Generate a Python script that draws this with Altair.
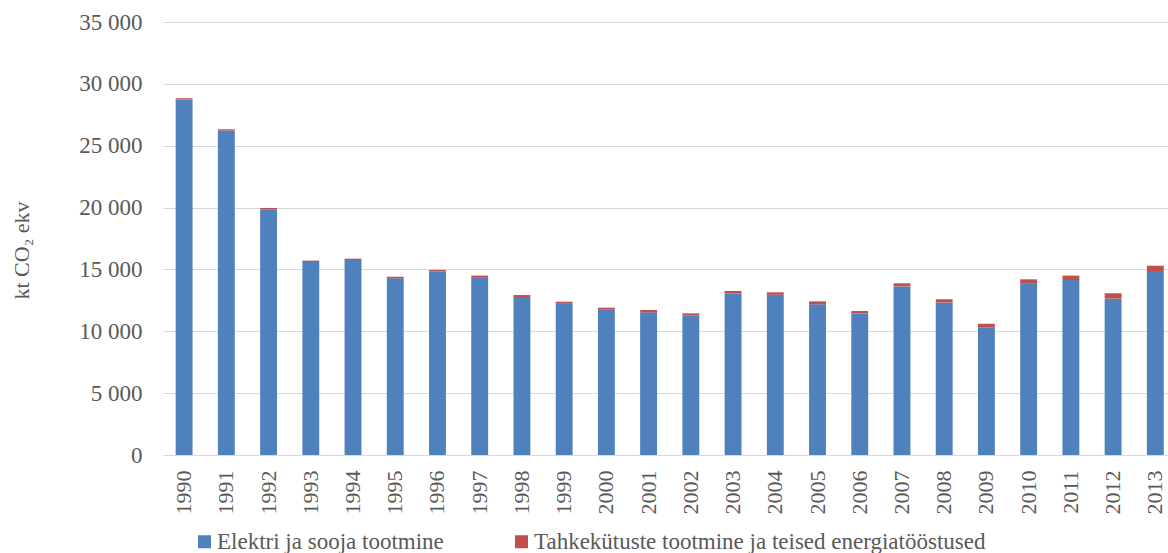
import altair as alt
import pandas as pd

# Emissions of the energy industries, kt CO2 equivalent
years = ["1990", "1991", "1992", "1993", "1994", "1995", "1996", "1997",
         "1998", "1999", "2000", "2001", "2002", "2003", "2004", "2005",
         "2006", "2007", "2008", "2009", "2010", "2011", "2012", "2013"]

elekter = [28740, 26230, 19870, 15600, 15760, 14280, 14820, 14360,
           12770, 12220, 11740, 11530, 11260, 13040, 12950, 12180,
           11440, 13630, 12330, 10330, 13840, 14140, 12640, 14870]

tahke = [100, 100, 100, 110, 110, 130, 140, 140,
         160, 170, 170, 190, 190, 220, 200, 240,
         200, 250, 260, 280, 360, 360, 430, 430]

series = ["Elektri ja sooja tootmine",
          "Tahkekütuste tootmine ja teised energiatööstused"]
colors = ["#4F81BD", "#C0504D"]

rows = []
for i, y in enumerate(years):
    rows.append({"aasta": y, "sektor": series[0], "jrk": 0, "kt": elekter[i]})
    rows.append({"aasta": y, "sektor": series[1], "jrk": 1, "kt": tahke[i]})
df = pd.DataFrame(rows)

FONT = "Liberation Serif"
GREY = "#595959"

chart = (
    alt.Chart(df)
    .mark_bar()
    .encode(
        x=alt.X(
            "aasta:N",
            sort=years,
            scale=alt.Scale(paddingInner=0.6, paddingOuter=0.2, align=0.75),
            axis=alt.Axis(
                title=None,
                labelAngle=-90,
                labelFont=FONT,
                labelFontSize=22,
                labelColor=GREY,
                labelPadding=15,
                ticks=False,
                domainColor="#d9d9d9",
                domainWidth=1,
            ),
        ),
        y=alt.Y(
            "kt:Q",
            stack="zero",
            scale=alt.Scale(domain=[0, 35000], nice=False),
            axis=alt.Axis(
                title="kt CO₂ ekv",
                titleFont=FONT,
                titleFontSize=22,
                titleFontWeight="normal",
                titleColor=GREY,
                titleX=-142,
                titleY=228,
                titleAlign="center",
                titleBaseline="middle",
                titleAngle=-90,
                values=[0, 5000, 10000, 15000, 20000, 25000, 30000, 35000],
                labelExpr="replace(format(datum.value, ',d'), ',', ' ')",
                labelFont=FONT,
                labelFontSize=23,
                labelColor=GREY,
                labelPadding=21,
                ticks=False,
                domain=False,
                gridColor="#d9d9d9",
                gridWidth=1,
            ),
        ),
        color=alt.Color(
            "sektor:N",
            scale=alt.Scale(domain=series, range=colors),
            legend=alt.Legend(
                title=None,
                orient="none",
                legendX=30,
                legendY=508,
                direction="horizontal",
                symbolType="square",
                symbolSize=169,
                symbolStrokeWidth=0,
                labelFont=FONT,
                labelFontSize=23,
                labelColor=GREY,
                labelOffset=1,
                labelLimit=0,
                columnPadding=66,
            ),
        ),
        order=alt.Order("jrk:Q", sort="ascending"),
    )
    .properties(
        width=1005,
        height=433,
        autosize=alt.AutoSizeParams(type="none"),
        padding={"left": 163, "top": 22, "right": 0, "bottom": 98},
    )
    .configure_view(stroke=None)
)

chart.save("out.html", embed_options={"renderer": "svg", "actions": False})
